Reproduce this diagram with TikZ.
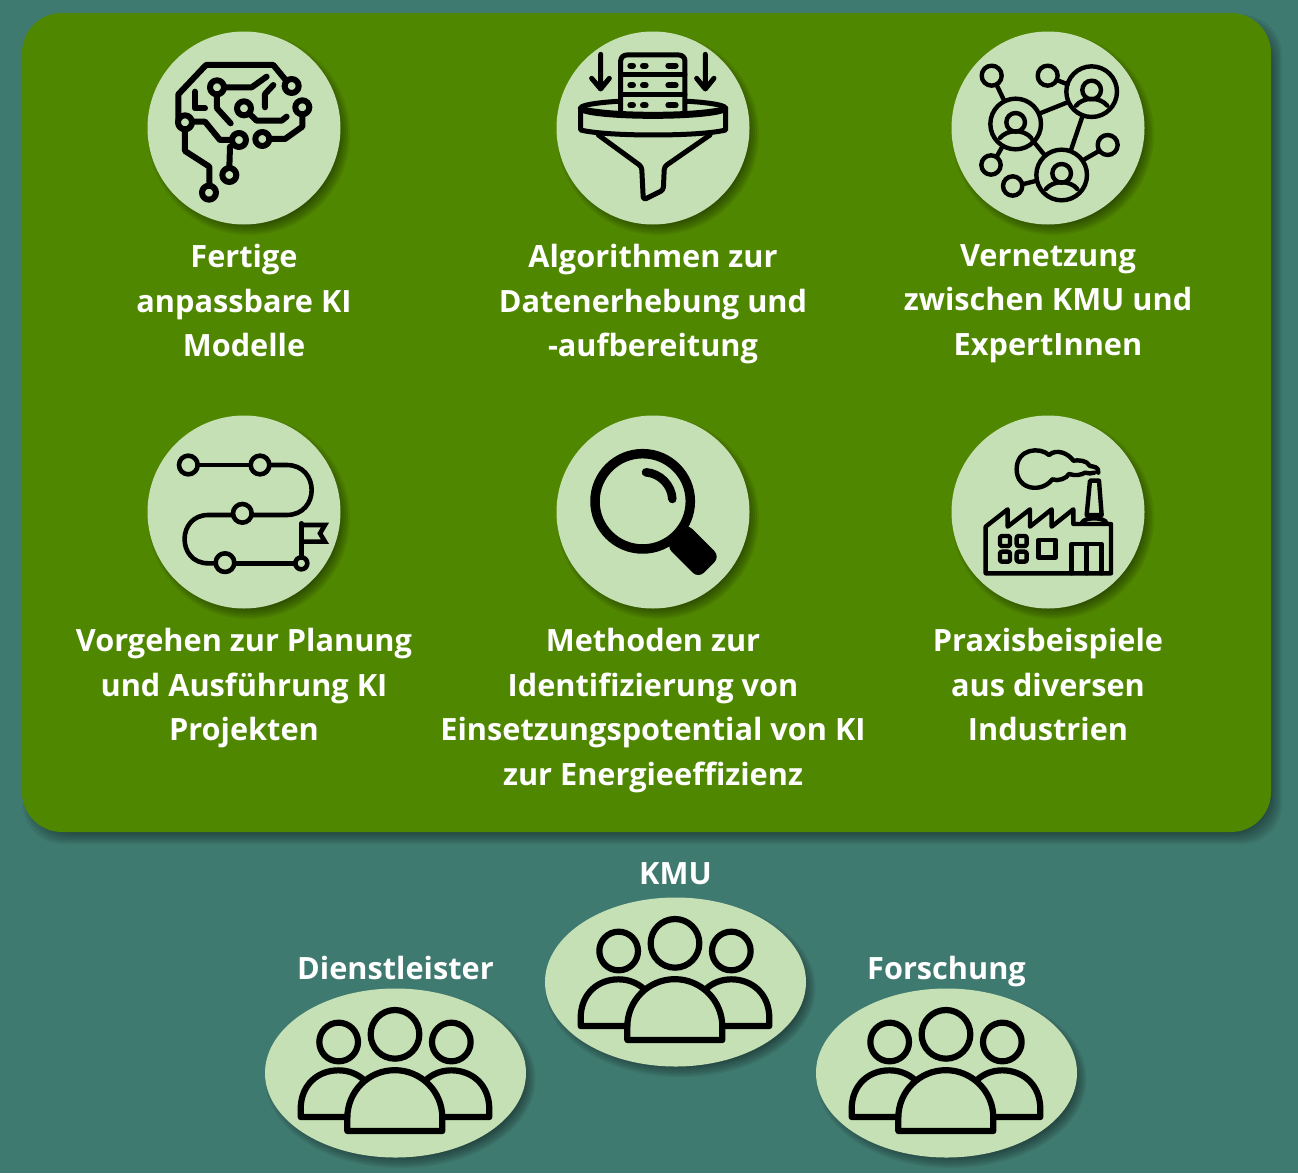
\documentclass[tikz,border=0pt]{standalone}
\usepackage{fontspec}
\setmainfont{Open Sans}
\usetikzlibrary{shapes.geometric}
\definecolor{bgteal}{HTML}{3F7A70}
\definecolor{panelgreen}{HTML}{508700}
\definecolor{disc}{HTML}{C5E0B4}
\tikzset{
  panel/.style={fill=panelgreen,rounded corners=40pt,inner sep=0,minimum width=1249pt,minimum height=819pt},
  discnode/.style={circle,fill=disc,inner sep=0,minimum size=193pt},
  ovalnode/.style={ellipse,fill=disc,inner sep=0,minimum width=261pt,minimum height=169pt},
  lbl/.style={anchor=north,align=center,inner sep=0,text=white,font=\fontsize{30.7}{44.6}\selectfont\bfseries,execute at begin node=\rule{0pt}{32pt}},
  icon/.style={line join=round,line cap=round,draw=black},
}
\newcommand\discshadow[2]{\foreach \d in {-7,-5,...,5}{\fill[black,opacity=.075] (#1+5,#2+6) circle[radius=96+\d];}}
\newcommand\ovalshadow[2]{\foreach \d in {-7,-5,...,5}{\fill[black,opacity=.075] (#1+5,#2+6) circle[x radius=130+\d,y radius=84+\d];}}
\newcommand\peopleicon{%
  \draw[icon,line width=6.2pt] (405,160) circle[radius=73];
  \draw[icon,line width=6.2pt] (236,183) circle[radius=58];
  \draw[icon,line width=6.2pt] (574,183) circle[radius=58];
  \draw[icon,line width=6.2pt] (262,408) -- (122,408) -- (122,385) .. controls (122,310) and (175,268) .. (235,268) .. controls (265,268) and (290,278) .. (310,295);
  \draw[icon,line width=6.2pt] (547,408) -- (688,408) -- (688,385) .. controls (688,310) and (635,268) .. (574,268) .. controls (545,268) and (520,278) .. (500,295);
  \draw[icon,line width=6.2pt] (262,450) -- (262,410) arc[start angle=180,end angle=360,radius=142.5] -- (547,450) -- cycle;
}
\begin{document}
\begin{tikzpicture}[x=1pt,y=-1pt]
\useasboundingbox (0,0) rectangle (1298,1173);
\fill[bgteal] (0,0) rectangle (1298,1173);
% panel
\foreach \d in {-7,-5,...,5}{\fill[black,opacity=.07,rounded corners=40pt] (22+6-\d,13+7-\d) rectangle (1271+6+\d,832+7+\d);}
\node[panel] (board) at (646.5,422.5) {};
% discs
\discshadow{244}{128}\discshadow{653}{128}\discshadow{1048}{128}
\discshadow{244}{512}\discshadow{653}{512}\discshadow{1048}{512}
\node[discnode] (brain) at (244,128) {};
\node[discnode] (funnel) at (653,128) {};
\node[discnode] (network) at (1048,128) {};
\node[discnode] (road) at (244,512) {};
\node[discnode] (lens) at (653,512) {};
\node[discnode] (factory) at (1048,512) {};
% ovals
\ovalshadow{675.5}{982}\ovalshadow{395.5}{1073}\ovalshadow{946.5}{1073}
\node[ovalnode] (kmu) at (675.5,982) {};
\node[ovalnode] (dienst) at (395.5,1073) {};
\node[ovalnode] (forsch) at (946.5,1073) {};
% labels
\node[lbl] (t1) at (244,244) {Fertige\\anpassbare KI\\Modelle};
\node[lbl] (t2) at (653,244) {Algorithmen zur\\Datenerhebung und\\-aufbereitung};
\node[lbl] (t3) at (1048,244) {Vernetzung\\zwischen KMU und\\ExpertInnen};
\node[lbl] (t4) at (244,628) {Vorgehen zur Planung\\und Ausführung KI\\Projekten};
\node[lbl] (t5) at (653,628) {Methoden zur\\Identifizierung von\\Einsetzungspotential von KI\\zur Energieeffizienz};
\node[lbl] (t6) at (1048,628) {Praxisbeispiele\\aus diversen\\Industrien};
\node[lbl] (t7) at (675.5,852) {KMU};
\node[lbl] (t8) at (395.5,947) {Dienstleister};
\node[lbl] (t9) at (946.5,947) {Forschung};
% brain icon
\begin{scope}[shift={(140,25)},x=.3333pt,y=-.3333pt,icon,line width=6pt]
\draw (437,165) -- (400,120) -- (198,120) -- (115,208) -- (115,285);
\draw (135,313) -- (135,378) -- (208,425) -- (208,480);
\draw (156,290) -- (195,290) -- (240,345) -- (275,345);
\draw (270,365) -- (268,428);
\draw (253,187) -- (335,187) -- (380,155);
\draw (231,209) -- (231,250) -- (272,295);
\draw (165,200) -- (165,250) -- (195,250);
\draw (330,268) -- (350,287) -- (425,287) -- (440,275);
\draw (400,180) -- (375,207) -- (375,247);
\draw (487,269) -- (487,305) -- (435,342) -- (390,342);
\foreach \x/\y in {455/183,135/292,207/503,297/345,268/450,231/187,312/250,487/247,367/342}{\draw (\x,\y) circle[radius=21];}
\end{scope}
% funnel icon
\begin{scope}[shift={(550,25)},x=.3333pt,y=-.3333pt,icon,line width=5pt]
\draw (152,88) -- (152,190) (125,160) -- (152,192) -- (178,160);
\draw (466,88) -- (466,190) (440,160) -- (466,192) -- (492,160);
\draw (309,250) ellipse[x radius=218,y radius=24];
\draw[fill=disc,rounded corners=6pt] (212,268) -- (212,90) -- (405,90) -- (405,268);
\draw (212,150) -- (405,150) (212,210) -- (405,210);
\foreach \y in {122,181,241}{\draw[line width=6pt] (241,\y) -- (249,\y) (279,\y) -- (287,\y) (355,\y) -- (377,\y);}
\draw (92,250) -- (92,315) .. controls (170,335) and (450,335) .. (527,315) -- (527,250);
\draw (92,250) .. controls (170,274) and (450,274) .. (527,250);
\draw[rounded corners=3pt] (145,330) -- (275,425) -- (280,525) -- (340,495) -- (343,425) -- (480,330);
\end{scope}
% network icon
\begin{scope}[shift={(945,25)},x=.3333pt,y=-.3333pt,icon,line width=4.4pt]
\foreach \x/\y in {212/297,440/200,350/450}{
  \draw (\x,\y) circle[radius=76];
  \draw (\x,\y-5) circle[radius=28];
  \draw (\x-47,\y+42) .. controls (\x-25,\y+15) and (\x+25,\y+15) .. (\x+47,\y+42);
}
\draw (140,152) circle[radius=30];
\draw (308,152) circle[radius=30];
\draw (488,360) circle[radius=30];
\draw (138,420) circle[radius=29];
\draw (203,483) circle[radius=29];
\draw (155,180) -- (178,228);
\draw (335,165) -- (368,178);
\draw (285,265) -- (365,233);
\draw (412,275) -- (378,375);
\draw (262,345) -- (297,388);
\draw (172,365) -- (155,395);
\draw (232,478) -- (272,468);
\draw (415,405) -- (462,378);
\end{scope}
% road icon
\begin{scope}[shift={(140,410)},x=.3333pt,y=-.3333pt,icon,line width=4.6pt]
\draw (173,165) -- (332,165);
\draw (388,165) -- (440,165) .. controls (540,165) and (540,315) .. (440,315) -- (335,315);
\draw (279,315) -- (205,315) .. controls (110,315) and (110,460) .. (205,460) -- (227,460);
\draw (283,460) -- (466,460);
\foreach \x/\y in {145/165,360/165,307/310,255/458}{\draw (\x,\y) circle[radius=28];}
\draw (484,460) circle[radius=18];
\draw (484,442) -- (484,340);
\draw[line join=miter] (486,345) -- (555,345) -- (540,370) -- (555,395) -- (486,395);
\end{scope}
% magnifier icon
\begin{scope}[shift={(550,410)},x=.3333pt,y=-.3333pt,icon]
\draw[line width=9.5pt] (278,274) circle[radius=143];
\draw[line width=8.5pt] (288,187) .. controls (330,190) and (365,225) .. (367,267);
\fill[rounded corners=8pt] (410,340) -- (510,440) -- (445,505) -- (348,408) -- cycle;
\end{scope}
% factory icon
\begin{scope}[shift={(945,410)},x=.3333pt,y=-.3333pt,icon,line width=4.4pt]
\draw (122,490) -- (122,350) -- (188,298) -- (188,350) -- (255,298) -- (255,350) -- (320,298) -- (320,350) -- (385,298) -- (385,342) -- (498,342) -- (498,490) -- cycle;
\foreach \x/\y in {165/378,215/378,165/425,215/425}{\draw[rounded corners=2pt] (\x,\y) rectangle (\x+30,\y+30);}
\draw (280,390) rectangle (332,442);
\draw (380,490) -- (380,402) -- (470,402) -- (470,490) (425,402) -- (425,490);
\draw (425,315) -- (435,212) -- (462,212) -- (470,315) -- cycle;
\draw (410,340) .. controls (415,320) and (480,320) .. (485,340);
\draw (460,188) .. controls (462,170) and (445,170) .. (435,168) .. controls (425,150) and (400,150) .. (385,152) .. controls (370,130) and (335,115) .. (312,135) .. controls (285,110) and (215,115) .. (215,178) .. controls (215,240) and (290,250) .. (322,208) .. controls (340,215) and (365,205) .. (372,192) .. controls (390,198) and (410,195) .. (420,188) .. controls (430,192) and (440,190) .. (448,188);
\end{scope}
% people icons
\begin{scope}[shift={(540,890)},x=.3333pt,y=-.3333pt]\peopleicon\end{scope}
\begin{scope}[shift={(260,981)},x=.3333pt,y=-.3333pt]\peopleicon\end{scope}
\begin{scope}[shift={(811,981)},x=.3333pt,y=-.3333pt]\peopleicon\end{scope}
\end{tikzpicture}
\end{document}
